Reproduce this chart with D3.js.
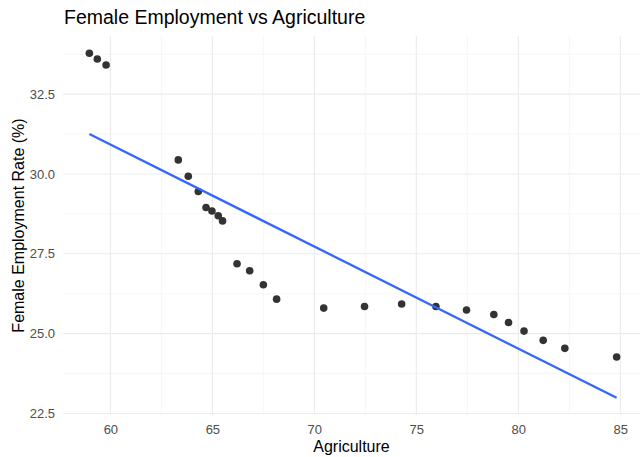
<!DOCTYPE html>
<html><head><meta charset="utf-8">
<script src="https://cdn.jsdelivr.net/npm/d3@7"></script>
<style>body{margin:0;background:#fff}svg{display:block;font-family:"Liberation Sans",Arial,sans-serif}</style>
</head><body><svg id="c" width="640" height="457"></svg>
<script>
const agriculture = [58.97,59.36,59.79,63.33,63.82,64.31,64.69,64.98,65.29,65.50,66.21,66.83,67.50,68.15,70.46,72.46,74.28,75.96,77.46,78.80,79.52,80.28,81.22,82.28,84.82];
const femaleEmployment = [33.78,33.60,33.41,30.44,29.93,29.45,28.95,28.84,28.69,28.53,27.19,26.97,26.53,26.08,25.80,25.85,25.93,25.85,25.74,25.60,25.35,25.08,24.79,24.54,24.27];
const xTicks = [60,65,70,75,80,85];
const yTicks = [22.5,25.0,27.5,30.0,32.5];
const xMinor = [62.5,67.5,72.5,77.5,82.5];
const yMinor = [23.75,26.25,28.75,31.25,33.75];

const svg = d3.select("#c");
const L = 63, R = 643, T = 36, B = 415;

// least squares fit (geom_smooth method = lm)
const n = agriculture.length;
const mx = d3.mean(agriculture), my = d3.mean(femaleEmployment);
let sxy = 0, sxx = 0;
for (let i = 0; i < n; i++) { sxy += (agriculture[i]-mx)*(femaleEmployment[i]-my); sxx += (agriculture[i]-mx)**2; }
const slope = sxy/sxx, icpt = my - slope*mx;
const xr = d3.extent(agriculture);
const fit = xr.map(x => [x, icpt + slope*x]);

const xe = xr[1]-xr[0];
const allY = femaleEmployment.concat(fit.map(d=>d[1]));
const ye = d3.extent(allY), yr = ye[1]-ye[0];
const x = d3.scaleLinear().domain([xr[0]-0.05*xe, xr[1]+0.05*xe]).range([L, R]);
const y = d3.scaleLinear().domain([ye[0]-0.05*yr, ye[1]+0.05*yr]).range([B, T]);

const g = svg.append("g");
g.selectAll(".vmin").data(xMinor).join("line").attr("x1",d=>x(d)).attr("x2",d=>x(d)).attr("y1",T).attr("y2",B).attr("stroke","#f0f0f0").attr("stroke-width",0.6);
g.selectAll(".hmin").data(yMinor).join("line").attr("y1",d=>y(d)).attr("y2",d=>y(d)).attr("x1",L).attr("x2",R).attr("stroke","#f0f0f0").attr("stroke-width",0.6);
g.selectAll(".vmaj").data(xTicks).join("line").attr("x1",d=>x(d)).attr("x2",d=>x(d)).attr("y1",T).attr("y2",B).attr("stroke","#ebebeb").attr("stroke-width",1.1);
g.selectAll(".hmaj").data(yTicks).join("line").attr("y1",d=>y(d)).attr("y2",d=>y(d)).attr("x1",L).attr("x2",R).attr("stroke","#ebebeb").attr("stroke-width",1.1);

// axes (no lines, labels only)
const xa = svg.append("g").attr("transform",`translate(0,${B+3})`).call(d3.axisBottom(x).tickValues(xTicks).tickSize(0).tickPadding(7).tickFormat(d3.format("d")));
const ya = svg.append("g").attr("transform",`translate(${L-3},0)`).call(d3.axisLeft(y).tickValues(yTicks).tickSize(0).tickPadding(5).tickFormat(d3.format(".1f")));
[xa, ya].forEach(a => { a.select(".domain").remove(); a.selectAll("text").attr("fill","#4d4d4d").style("font-size","13px").style("font-family","Liberation Sans, Arial, sans-serif"); });

// points
svg.append("g").selectAll("circle").data(agriculture).join("circle")
  .attr("cx",(d)=>x(d)).attr("cy",(d,i)=>y(femaleEmployment[i])).attr("r",3.8).attr("fill","#333333");

// fit line
svg.append("path").datum(fit).attr("d", d3.line().x(d=>x(d[0])).y(d=>y(d[1])))
  .attr("fill","none").attr("stroke","#3366FF").attr("stroke-width",2.3);

// titles
svg.append("text").attr("x",64).attr("y",24).text("Female Employment vs Agriculture").attr("fill","#000").style("font-size","19.5px");
svg.append("text").attr("x",(L+640)/2).attr("y",452).attr("text-anchor","middle").text("Agriculture").attr("fill","#000").style("font-size","16px");
svg.append("text").attr("transform",`translate(24,${(T+B)/2}) rotate(-90)`).attr("text-anchor","middle").text("Female Employment Rate (%)").attr("fill","#000").style("font-size","16px");
</script></body></html>
